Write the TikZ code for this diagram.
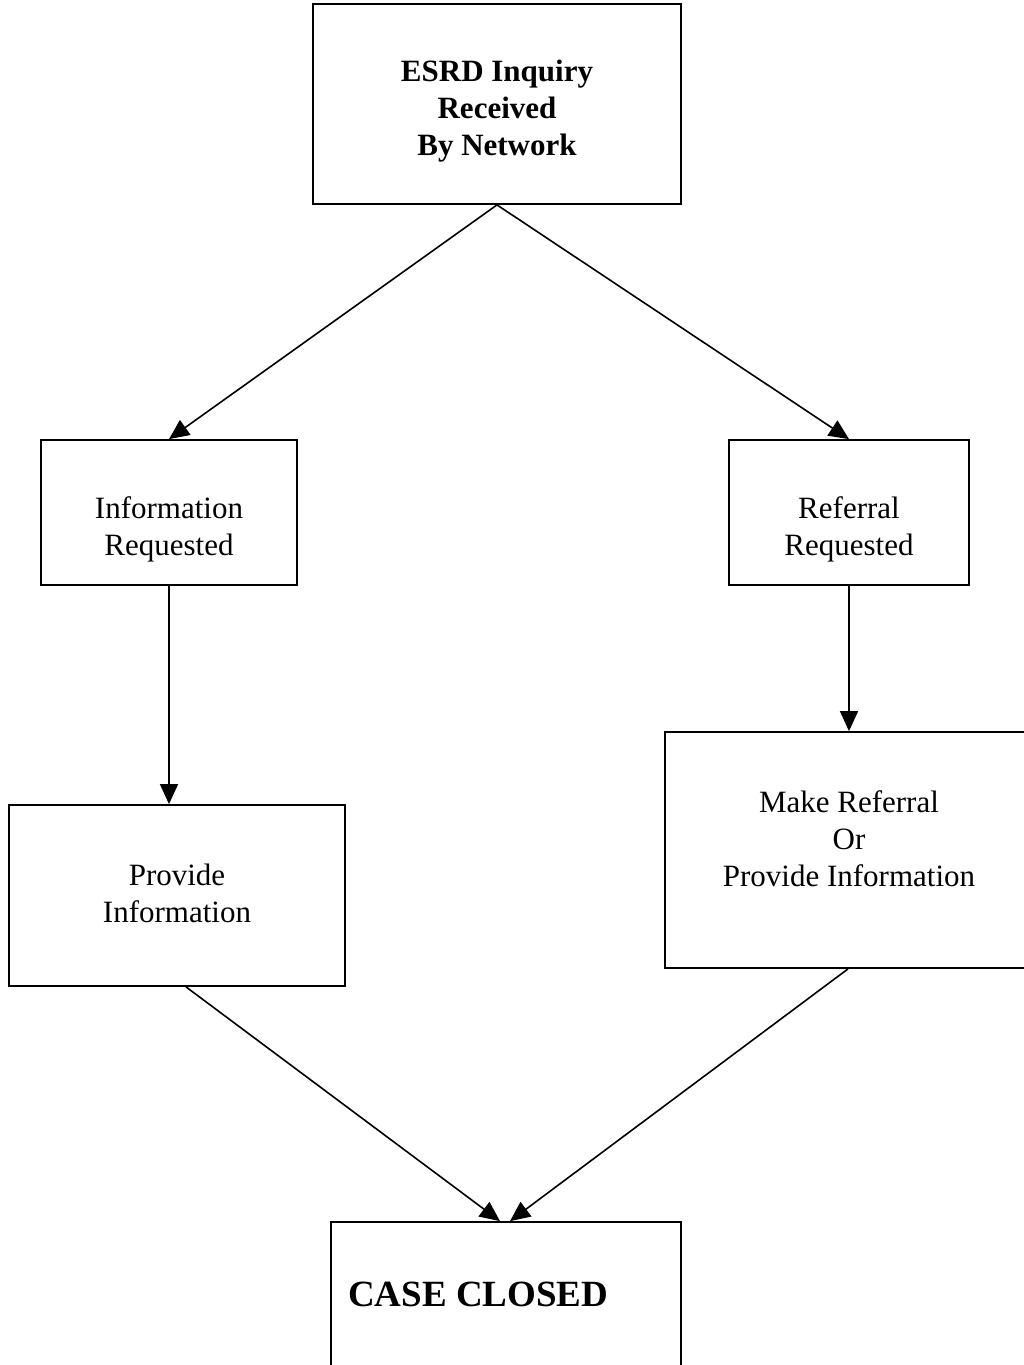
\documentclass[tikz,border=0pt]{standalone}
\usepackage{fontspec}
\setmainfont{Liberation Serif}
\usetikzlibrary{arrows.meta,calc}
\begin{document}
\begin{tikzpicture}[x=1pt,y=-1pt,
  box/.style={draw=black,line width=1.8pt,rectangle,inner sep=0pt},
  txt/.style={align=center,font=\fontsize{31}{37}\selectfont,inner sep=0pt},
  conn/.style={line width=1.6pt,-{Triangle[length=20pt,width=18pt]}}]
\useasboundingbox (0,0) rectangle (1024,1365);
\clip (0,0) rectangle (1024,1365);
\fill[white] (0,0) rectangle (1024,1365);
% boxes
\node[box,minimum width=368pt,minimum height=200pt] (top) at (497,104) {};
\node[box,minimum width=256pt,minimum height=145pt] (info) at (169,512.5) {};
\node[box,minimum width=240pt,minimum height=145pt] (ref) at (849,512.5) {};
\node[box,minimum width=336pt,minimum height=181pt] (prov) at (177,895.5) {};
\node[box,minimum width=370pt,minimum height=236pt] (make) at (850,850) {};
\node[box,minimum width=350pt,minimum height=170pt] (case) at (506,1307) {};
% texts
\node[txt,font=\fontsize{31}{37}\selectfont\bfseries] (ttop) at (497,111) {ESRD Inquiry\\Received\\By Network};
\node[txt] (tinfo) at (169,529.5) {Information\\Requested};
\node[txt] (tref) at (849,529.5) {Referral\\Requested};
\node[txt] (tprov) at (177,893.5) {Provide\\Information};
\node[txt] (tmake) at (849,839) {Make Referral\\Or\\Provide Information};
\node[txt,font=\fontsize{37}{44}\selectfont\bfseries,anchor=base west] (tcase) at (348,1306) {CASE CLOSED};
% connectors
\draw[conn] (top.south) -- (info.north);
\draw[conn] (top.south) -- (ref.north);
\draw[conn] (info.south) -- (info.south |- prov.north);
\draw[conn] (ref.south) -- (ref.south |- make.north);
\draw[conn] ($(prov.south)+(9,0)$) -- ($(case.north)+(-6,0)$);
\draw[conn] ($(make.south)+(-2,0)$) -- ($(case.north)+(4,0)$);
\end{tikzpicture}
\end{document}
